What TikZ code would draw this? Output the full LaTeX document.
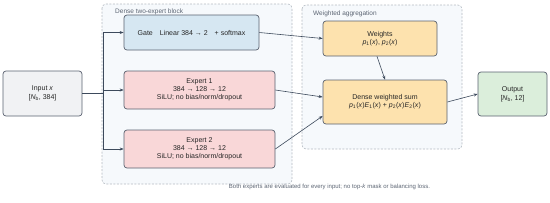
\documentclass[tikz,border=0pt]{standalone}
\usepackage{fontspec}
\setmainfont{Liberation Sans}
\usetikzlibrary{arrows.meta}

\definecolor{edgegray}{HTML}{5A6270}
\definecolor{linkgray}{HTML}{3D4A5C}
\definecolor{dashgray}{HTML}{B4BAC2}
\definecolor{groupfill}{HTML}{F6F9FC}
\definecolor{inputfill}{HTML}{F1F2F4}
\definecolor{gatefill}{HTML}{D6E7F2}
\definecolor{expertfill}{HTML}{F9D7D8}
\definecolor{aggfill}{HTML}{FDE2AE}
\definecolor{outfill}{HTML}{DBEEDB}
\definecolor{labelgray}{HTML}{5C6573}

\newcommand{\ital}[1]{\textit{#1}}

\tikzset{
  block/.style={draw=edgegray, line width=0.7pt, rounded corners=3pt, align=center,
    inner sep=1pt, font=\fontsize{7}{8.2}\selectfont, text=black!85},
  group/.style={draw=dashgray, fill=groupfill, line width=0.6pt,
    dash pattern=on 2pt off 1.5pt, rounded corners=4pt},
  grouplabel/.style={anchor=west, inner sep=1pt, text=labelgray,
    font=\fontsize{6.5}{7.5}\selectfont},
  wire/.style={draw=linkgray, line width=0.6pt},
  link/.style={wire, -{Stealth[length=4pt, width=3pt]}}
}

\begin{document}
\begin{tikzpicture}[x=1pt, y=-1pt]

\useasboundingbox (0,0) rectangle (550,202);

% --- Containers ---
\draw[group] (102,4) rectangle (292,184);
\node[grouplabel] (denselbl) at (114,12) {Dense two-expert block};
\draw[group] (302,5) rectangle (462,149);
\node[grouplabel] (agglbl) at (312,14) {Weighted aggregation};

% --- Input ---
\node[block, fill=inputfill, minimum width=79pt, minimum height=45pt] (input) at (42.5,93.5)
  {Input \ital{x}\\[1pt] [\ital{N}\textsubscript{b}, 384]};

% --- Dense block ---
\node[block, fill=gatefill, minimum width=135pt, minimum height=35pt] (gate) at (191.5,32.5)
  {Gate\quad Linear 384 → 2\quad + softmax};
\node[block, fill=expertfill, minimum width=151pt, minimum height=38pt] (expA) at (199.5,90)
  {Expert 1\\ 384 → 128 → 12\\ SiLU; no bias/norm/dropout};
\node[block, fill=expertfill, minimum width=151pt, minimum height=38pt] (expB) at (199.5,149)
  {Expert 2\\ 384 → 128 → 12\\ SiLU; no bias/norm/dropout};

% --- Aggregation ---
\node[block, fill=aggfill, minimum width=114pt, minimum height=35pt] (weights) at (380,38.5)
  {Weights\\ \ital{p}\textsubscript{1}(\ital{x}), \ital{p}\textsubscript{2}(\ital{x})};
\node[block, fill=aggfill, minimum width=124pt, minimum height=44pt] (wsum) at (385,102)
  {Dense weighted sum\\ \ital{p}\textsubscript{1}(\ital{x})\ital{E}\textsubscript{1}(\ital{x}) + \ital{p}\textsubscript{2}(\ital{x})\ital{E}\textsubscript{2}(\ital{x})};

% --- Output ---
\node[block, fill=outfill, minimum width=69pt, minimum height=44pt] (output) at (512.5,94)
  {Output\\[1pt] [\ital{N}\textsubscript{b}, 12]};

% --- Fan-out from input ---
\coordinate (bus) at (103,93.5);
\draw[wire] (input.east) -- (bus);
\draw[wire] (bus |- gate.west) -- (bus |- expB.west);
\foreach \n in {gate, expA, expB}
  \draw[link] (bus |- \n.west) -- (\n.west);

% --- Into aggregation ---
\draw[link] (gate.east) -- (weights.west);
\draw[link] (expA.east) -- ([yshift=5pt]wsum.west);
\draw[link] (expB.east) -- ([yshift=-14pt]wsum.west);
\draw[link] ([xshift=-3pt]weights.south) -- (wsum.north);
\draw[link] (wsum.east) -- (output.west);

% --- Note ---
\node[text=labelgray, font=\fontsize{6}{7}\selectfont] (note) at (329.5,187)
  {Both experts are evaluated for every input; no top-\ital{k} mask or balancing loss.};

\end{tikzpicture}
\end{document}
